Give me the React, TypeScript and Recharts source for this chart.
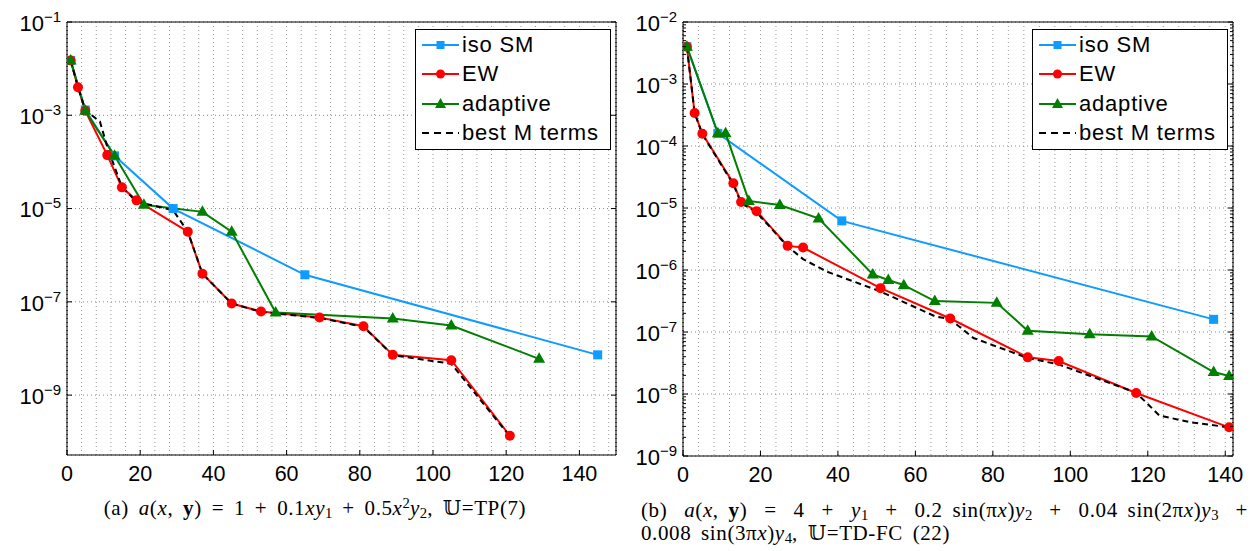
import React from 'react';
import { LineChart, Line, XAxis, YAxis, CartesianGrid, Legend, ReferenceLine } from 'recharts';

const BLUE = '#0f9bff';
const RED = '#ff0000';
const GREEN = '#007f00';
const BLACK = '#000000';
const SANS = '"Liberation Sans", Arial, Helvetica, sans-serif';
const SERIF = '"Liberation Serif", "DejaVu Serif", "DejaVu Sans", serif';

// ---- panel (a) ----
const isoA_x = [1, 5, 13, 29, 65, 145];
const isoA_y = [1.5e-2, 1.3e-3, 1.35e-4, 1.0e-5, 3.8e-7, 7.3e-9];
const ewA_x = [1, 3, 5, 11, 15, 19, 33, 37, 45, 53, 69, 81, 89, 105, 121];
const ewA_y = [1.5e-2, 4e-3, 1.25e-3, 1.4e-4, 2.85e-5, 1.5e-5, 3.2e-6, 4e-7, 9.2e-8, 6.2e-8, 4.6e-8, 3e-8, 7.3e-9, 5.6e-9, 1.35e-10];
const adA_x = [1, 5, 13, 21, 37, 45, 57, 89, 105, 129];
const adA_y = [1.5e-2, 1.25e-3, 1.35e-4, 1.2e-5, 8.5e-6, 3.2e-6, 5.9e-8, 4.4e-8, 3.1e-8, 6e-9];
const bestA_x = [1, 3, 5, 9, 11, 15, 19, 29, 33, 37, 45, 53, 69, 81, 89, 105, 121];
const bestA_y = [1.5e-2, 4e-3, 1.3e-3, 7.3e-4, 2.1e-4, 2.9e-5, 1.4e-5, 9.2e-6, 3.2e-6, 4e-7, 9.2e-8, 6.1e-8, 4.5e-8, 2.9e-8, 7.2e-9, 4.7e-9, 1.3e-10];
const yTicksA = [1e-1, 1e-3, 1e-5, 1e-7, 1e-9];
const yExpA = ['\u22121', '\u22123', '\u22125', '\u22127', '\u22129'];

// ---- panel (b) ----
const isoB_x = [1, 9, 41, 137];
const isoB_y = [4e-3, 1.6e-4, 6.2e-6, 1.6e-7];
const ewB_x = [1, 3, 5, 13, 15, 19, 27, 31, 51, 69, 89, 97, 117, 141];
const ewB_y = [4e-3, 3.4e-4, 1.58e-4, 2.5e-5, 1.25e-5, 8.9e-6, 2.45e-6, 2.3e-6, 5.1e-7, 1.65e-7, 3.9e-8, 3.4e-8, 1.04e-8, 2.9e-9];
const adB_x = [1, 9, 11, 17, 25, 35, 49, 53, 57, 65, 81, 89, 105, 121, 137, 141];
const adB_y = [4e-3, 1.6e-4, 1.6e-4, 1.3e-5, 1.12e-5, 6.8e-6, 8.5e-7, 6.9e-7, 5.7e-7, 3.15e-7, 2.95e-7, 1.05e-7, 9.2e-8, 8.5e-8, 2.26e-8, 1.95e-8];
const bestB_x = [1, 3, 5, 13, 15, 19, 27, 31, 37, 51, 65, 69, 75, 89, 97, 117, 123, 131, 141];
const bestB_y = [4e-3, 3.4e-4, 1.55e-4, 2.4e-5, 1.2e-5, 8.5e-6, 2.4e-6, 1.5e-6, 9.5e-7, 4.5e-7, 1.8e-7, 1.6e-7, 8e-8, 3.8e-8, 3e-8, 1.05e-8, 4.5e-9, 3.5e-9, 2.9e-9];
const yTicksB = [1e-2, 1e-3, 1e-4, 1e-5, 1e-6, 1e-7, 1e-8, 1e-9];
const yExpB = ['\u22122', '\u22123', '\u22124', '\u22125', '\u22126', '\u22127', '\u22128', '\u22129'];

const xLabels = [0, 20, 40, 60, 80, 100, 120, 140];
const legendNames = ['iso SM', 'EW', 'adaptive', 'best M terms'];

const zip = (xs: number[], ys: number[]) => xs.map((x, i) => ({ x, y: ys[i] }));
const range = (a: number, b: number, s: number) => {
  const out: number[] = [];
  for (let v = a; v <= b; v += s) out.push(v);
  return out;
};
const logMinors = (majors: number[]) => {
  const out: number[] = [];
  majors.forEach((m) => {
    for (let k = 2; k <= 9; k++) out.push(m * k);
  });
  return out;
};
const near = (list: number[], v: number) => list.findIndex((m) => Math.abs(m - v) / m < 1e-6);

const SquareDot = (props: any) => {
  const { cx, cy, index } = props;
  if (cx == null || cy == null) return <g key={`s${index}`} />;
  return <rect key={`s${index}`} x={cx - 4.5} y={cy - 4.5} width={9} height={9} fill={BLUE} />;
};
const CircleDot = (props: any) => {
  const { cx, cy, index } = props;
  if (cx == null || cy == null) return <g key={`c${index}`} />;
  return <circle key={`c${index}`} cx={cx} cy={cy} r={5} fill={RED} />;
};
const TriDot = (props: any) => {
  const { cx, cy, index } = props;
  if (cx == null || cy == null) return <g key={`t${index}`} />;
  return <polygon key={`t${index}`} points={`${cx},${cy - 6.5} ${cx - 6},${cy + 4} ${cx + 6},${cy + 4}`} fill={GREEN} />;
};

const LegendBox = () => {
  const marks = [
    <rect x={15.5} y={6} width={8} height={8} fill={BLUE} />,
    <circle cx={19.5} cy={10} r={4.5} fill={RED} />,
    <polygon points="19.5,4 14,14 25,14" fill={GREEN} />,
    null,
  ];
  const colors = [BLUE, RED, GREEN, BLACK];
  return (
    <div
      style={{
        width: 196,
        height: 121,
        boxSizing: 'border-box',
        border: '1.5px solid #000',
        background: '#fff',
        fontFamily: SANS,
        fontSize: 22,
        letterSpacing: 0.8,
        color: '#000',
      }}
    >
      {legendNames.map((name, i) => (
        <div key={name} style={{ height: 29.5, display: 'flex', alignItems: 'center' }}>
          <svg width={46} height={20} style={{ marginLeft: 5, flex: 'none' }}>
            <line
              x1={1}
              x2={38}
              y1={10}
              y2={10}
              stroke={colors[i]}
              strokeWidth={2}
              strokeDasharray={i === 3 ? '7 5' : undefined}
            />
            {marks[i]}
          </svg>
          <span style={{ marginLeft: -5 }}>{name}</span>
        </div>
      ))}
    </div>
  );
};

type PanelCfg = {
  left: number;
  width: number;
  height: number;
  right: number;
  yWidth: number;
  xMax: number;
  yMin: number;
  yMax: number;
  yTicks: number[];
  yExp: string[];
  minorY: boolean;
  legendLeft: number;
  iso: { x: number; y: number }[];
  ew: { x: number; y: number }[];
  ad: { x: number; y: number }[];
  best: { x: number; y: number }[];
};

const Panel = (p: PanelCfg) => {
  const xMinor = range(0, p.xMax, 4);
  const yAll = p.minorY ? [...p.yTicks, ...logMinors(p.yTicks.slice(1))].sort((a, b) => a - b) : p.yTicks;
  const plotLeft = p.yWidth;
  const plotRight = p.width - p.right;
  const plotTop = 22;
  const plotBottom = p.height - 35;

  const BottomTick = (t: any) => {
    const v = t.payload.value;
    const major = xLabels.includes(v);
    if (!major) return <g />;
    return (
      <g>
        <line x1={t.x} x2={t.x} y1={plotBottom} y2={plotBottom - 5} stroke="#000" />
        <text x={t.x} y={plotBottom + 25.5} textAnchor="middle" fontSize={21.5} fontFamily={SANS} fill="#000">
          {v}
        </text>
      </g>
    );
  };
  const TopTick = (t: any) => <line x1={t.x} x2={t.x} y1={plotTop} y2={plotTop + 5} stroke="#000" />;
  const LeftTick = (t: any) => {
    const idx = near(p.yTicks, t.payload.value);
    return (
      <g>
        <line x1={plotLeft} x2={plotLeft + (idx >= 0 ? 5 : 3)} y1={t.y} y2={t.y} stroke="#000" />
        {idx >= 0 && (
          <text x={plotLeft - 6} y={t.y + 8.7} textAnchor="end" fontSize={22} fontFamily={SANS} fill="#000">
            10
            <tspan dy={-9} fontSize={15}>
              {p.yExp[idx]}
            </tspan>
          </text>
        )}
      </g>
    );
  };
  const RightTick = (t: any) => {
    const idx = near(p.yTicks, t.payload.value);
    return <line x1={plotRight} x2={plotRight - (idx >= 0 ? 5 : 3)} y1={t.y} y2={t.y} stroke="#000" />;
  };

  return (
    <div style={{ position: 'absolute', left: p.left, top: 0 }}>
      <LineChart width={p.width} height={p.height} margin={{ top: 21, right: p.right - 1, bottom: 0, left: 0 }}>
        <XAxis
          xAxisId="x"
          type="number"
          dataKey="x"
          domain={[0, p.xMax]}
          allowDataOverflow
          ticks={xMinor}
          interval={0}
          height={35}
          tickSize={0}
          tickMargin={0}
          tickLine={false}
          axisLine={{ stroke: '#000' }}
          tick={BottomTick}
        />
        <XAxis
          xAxisId="t"
          orientation="top"
          type="number"
          domain={[0, p.xMax]}
          allowDataOverflow
          ticks={xLabels}
          interval={0}
          height={1}
          tickSize={0}
          tickMargin={0}
          tickLine={false}
          axisLine={false}
          tick={TopTick}
        />
        <YAxis
          yAxisId="y"
          type="number"
          scale="log"
          domain={[p.yMin, p.yMax]}
          allowDataOverflow
          ticks={yAll}
          interval={0}
          width={p.yWidth}
          tickSize={0}
          tickMargin={0}
          tickLine={false}
          axisLine={false}
          tick={LeftTick}
        />
        <YAxis
          yAxisId="r"
          orientation="right"
          type="number"
          scale="log"
          domain={[p.yMin, p.yMax]}
          allowDataOverflow
          ticks={yAll}
          interval={0}
          width={1}
          tickSize={0}
          tickMargin={0}
          tickLine={false}
          axisLine={false}
          tick={RightTick}
        />
        <YAxis yAxisId="g" hide type="number" scale="log" domain={[p.yMin, p.yMax]} allowDataOverflow ticks={p.yTicks} interval={0} />
        <CartesianGrid xAxisId="x" yAxisId="g" horizontal={false} stroke="#9a9a9a" strokeDasharray="1 3" />
        <CartesianGrid xAxisId="t" yAxisId="g" horizontal={false} stroke="#000" strokeDasharray="1 3" />
        <CartesianGrid xAxisId="x" yAxisId="g" vertical={false} stroke="#8a8a8a" strokeDasharray="1 3" />
        <ReferenceLine xAxisId="x" yAxisId="y" x={0} stroke="#000" strokeWidth={1} ifOverflow="visible" />
        <ReferenceLine xAxisId="x" yAxisId="y" x={p.xMax} stroke="#000" strokeWidth={1} ifOverflow="visible" />
        <ReferenceLine xAxisId="x" yAxisId="y" y={p.yMax} stroke="#000" strokeWidth={1} ifOverflow="visible" />
        <Line xAxisId="x" yAxisId="y" data={p.iso} dataKey="y" type="linear" stroke={BLUE} strokeWidth={2} dot={SquareDot} activeDot={false} isAnimationActive={false} />
        <Line xAxisId="x" yAxisId="y" data={p.ew} dataKey="y" type="linear" stroke={RED} strokeWidth={2} dot={CircleDot} activeDot={false} isAnimationActive={false} />
        <Line xAxisId="x" yAxisId="y" data={p.ad} dataKey="y" type="linear" stroke={GREEN} strokeWidth={2} dot={TriDot} activeDot={false} isAnimationActive={false} />
        <Line xAxisId="x" yAxisId="y" data={p.best} dataKey="y" type="linear" stroke={BLACK} strokeWidth={2} strokeDasharray="6 4" dot={false} activeDot={false} isAnimationActive={false} />
        <Legend
          layout="vertical"
          align="center"
          verticalAlign="middle"
          wrapperStyle={{ left: p.legendLeft, top: 29, width: 196, height: 121 }}
          content={() => <LegendBox />}
        />
      </LineChart>
    </div>
  );
};

const sub: React.CSSProperties = { fontSize: '0.7em', verticalAlign: '-0.2em', lineHeight: 0, letterSpacing: 0 };
const sup: React.CSSProperties = { fontSize: '0.7em', verticalAlign: '0.5em', lineHeight: 0, letterSpacing: 0 };
const I = ({ children }: { children: React.ReactNode }) => <span style={{ fontStyle: 'italic' }}>{children}</span>;

const capStyle: React.CSSProperties = {
  position: 'absolute',
  fontFamily: SERIF,
  fontSize: 21,
  letterSpacing: 0.6,
  wordSpacing: 4,
  lineHeight: '23px',
  whiteSpace: 'nowrap',
  color: '#000',
};

export default function App() {
  return (
    <div style={{ position: 'absolute', left: 0, top: 0, width: 1250, height: 551, background: '#fff', overflow: 'hidden' }}>
      <Panel
        left={0}
        width={625}
        height={490}
        right={9}
        yWidth={67}
        xMax={150}
        yMin={5.2e-11}
        yMax={1e-1}
        yTicks={yTicksA}
        yExp={yExpA}
        minorY={false}
        legendLeft={415}
        iso={zip(isoA_x, isoA_y)}
        ew={zip(ewA_x, ewA_y)}
        ad={zip(adA_x, adA_y)}
        best={zip(bestA_x, bestA_y)}
      />
      <Panel
        left={625}
        width={625}
        height={491}
        right={17}
        yWidth={58}
        xMax={142}
        yMin={1e-9}
        yMax={1e-2}
        yTicks={yTicksB}
        yExp={yExpB}
        minorY={true}
        legendLeft={407}
        iso={zip(isoB_x, isoB_y)}
        ew={zip(ewB_x, ewB_y)}
        ad={zip(adB_x, adB_y)}
        best={zip(bestB_x, bestB_y)}
      />
      <div style={{ ...capStyle, left: 85, top: 497, width: 460, textAlign: 'center' }}>
        (a) <I>a</I>(<I>x</I>, <b>y</b>) = 1 + 0.1<I>xy</I>
        <span style={sub}>1</span> + 0.5<I>x</I>
        <span style={sup}>2</span>
        <I>y</I>
        <span style={sub}>2</span>, 𝕌=TP(7)
      </div>
      <div style={{ ...capStyle, left: 641, top: 499, width: 607 }}>
        <div style={{ display: 'flex', justifyContent: 'space-between' }}>
          <span>(b)</span>
          <span>
            <I>a</I>(<I>x</I>, <b>y</b>)
          </span>
          <span>=</span>
          <span>4</span>
          <span>+</span>
          <span>
            <I>y</I>
            <span style={sub}>1</span>
          </span>
          <span>+</span>
          <span>
            0.2 sin(π<I>x</I>)<I>y</I>
            <span style={sub}>2</span>
          </span>
          <span>+</span>
          <span>
            0.04 sin(2π<I>x</I>)<I>y</I>
            <span style={sub}>3</span>
          </span>
          <span>+</span>
        </div>
        <div>
          0.008 sin(3π<I>x</I>)<I>y</I>
          <span style={sub}>4</span>, 𝕌=TD-FC (22)
        </div>
      </div>
    </div>
  );
}
